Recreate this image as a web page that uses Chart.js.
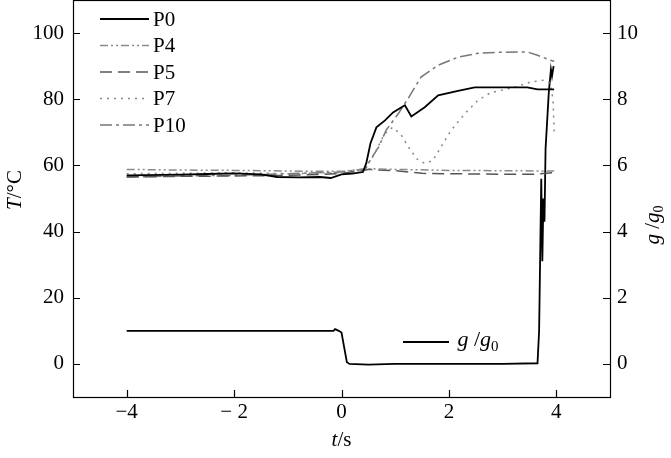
<!DOCTYPE html>
<html>
<head>
<meta charset="utf-8">
<script src="https://cdn.jsdelivr.net/npm/chart.js@4.4.1/dist/chart.umd.min.js"></script>
<style>
html, body { margin: 0; padding: 0; background: #fff; }
</style>
</head>
<body>
<canvas id="grafico" width="671" height="458"></canvas>
<script>
// datos
const ejeT = [-4, 4];
const ticksX = [-4, -2, 0, 2, 4];
const etiquetasX = ['\u22124', '\u2212 2', '0', '2', '4'];
const ticksT = [0, 20, 40, 60, 80, 100];
const ticksG = [0, 2, 4, 6, 8, 10];

const p0T = [-4, -3, -2.5, -2, -1.5, -1.2, -0.8, -0.4, -0.2, 0, 0.2, 0.4, 0.46, 0.54, 0.65, 0.81, 0.96, 1.18, 1.3, 1.55, 1.8, 2.17, 2.48, 2.91, 3.46, 3.65, 3.96];
const p0V = [57, 57.2, 57.4, 57.6, 57.3, 56.5, 56.4, 56.5, 56.2, 57.3, 57.5, 58, 60.6, 66.7, 71.5, 73.6, 76, 78.2, 74.8, 77.6, 81.2, 82.5, 83.6, 83.6, 83.6, 83, 83];

const p4T = [-4, -3, -2, -1, 0, 0.5, 1, 2, 3, 3.96];
const p4V = [58.8, 58.6, 58.5, 58.3, 58.2, 59, 58.8, 58.5, 58.4, 58.3];

const p5T = [-4, -3, -2, -1, 0, 0.5, 1, 1.5, 2.5, 3.5, 3.65, 3.96];
const p5V = [56.5, 56.7, 56.8, 57, 57.5, 58.8, 58.4, 57.6, 57.4, 57.3, 57.4, 57.8];

const p7T = [-4, -3, -2, -1, 0, 0.4, 0.6, 0.8, 0.95, 1.1, 1.25, 1.4, 1.55, 1.7, 1.85, 2.04, 2.3, 2.54, 2.78, 3.22, 3.52, 3.78, 3.89, 3.94, 3.96];
const p7V = [57.5, 57.6, 57.8, 57.5, 57.8, 58.5, 63, 69.5, 71.5, 69.5, 65.5, 62, 60.6, 61.5, 65.5, 70.6, 75.7, 79.7, 82, 83.6, 85.2, 85.8, 84.8, 79.7, 70];

const p10T = [-4, -3, -2, -1, 0, 0.45, 0.55, 0.69, 0.83, 1.06, 1.24, 1.48, 1.8, 2.17, 2.54, 2.91, 3.46, 3.65, 3.89, 3.96];
const p10V = [56.5, 56.8, 57, 57.5, 58, 59, 62, 65.5, 70.6, 75.7, 80.2, 86.7, 90.3, 92.7, 93.9, 94.2, 94.3, 93.3, 91.8, 91.5];

const gT = [-4, -0.15, -0.12, -0.05, 0, 0.05, 0.1, 0.15, 0.5, 1, 2, 3, 3.65, 3.68, 3.72, 3.74, 3.76, 3.78, 3.8, 3.86, 3.9, 3.92, 3.95];
const gV = [1, 1, 1.05, 1, 0.95, 0.5, 0.05, 0, -0.02, 0, 0, 0, 0.02, 1, 5.6, 3.1, 5, 4.3, 6.5, 8.2, 8.9, 8.7, 9.0];

function puntos(t, v) {
    return t.map((x, i) => ({ x: x, y: v[i] }));
}

const series = [
    { label: 'P0', t: p0T, v: p0V, color: '#000', ancho: 1.8, dash: [] },
    { label: 'P4', t: p4T, v: p4V, color: '#8a8a8a', ancho: 1.5, dash: [8, 3, 2, 3, 2, 3] },
    { label: 'P5', t: p5T, v: p5V, color: '#555', ancho: 1.5, dash: [12, 6] },
    { label: 'P7', t: p7T, v: p7V, color: '#888', ancho: 1.5, dash: [2, 5] },
    { label: 'P10', t: p10T, v: p10V, color: '#777', ancho: 1.5, dash: [12, 4, 3, 4] }
];

const datasets = series.map(s => ({
    label: s.label,
    data: puntos(s.t, s.v),
    borderColor: s.color,
    borderWidth: s.ancho,
    borderDash: s.dash,
    yAxisID: 'y',
    pointRadius: 0,
    tension: 0
}));
datasets.push({
    label: 'g/g0',
    data: puntos(gT, gV),
    borderColor: '#000',
    borderWidth: 1.8,
    yAxisID: 'y2',
    pointRadius: 0,
    tension: 0
});

const FUENTE = '"Liberation Serif", "Times New Roman", serif';

// dibuja texto con partes en cursiva / subindice
function textoMixto(ctx, partes, x, y, size, rot) {
    ctx.save();
    ctx.translate(x, y);
    if (rot) ctx.rotate(rot);
    let total = 0;
    partes.forEach(p => {
        const fs = p.sub ? size * 0.68 : size;
        ctx.font = (p.it ? 'italic ' : '') + fs + 'px ' + FUENTE;
        p.w = ctx.measureText(p.s).width;
        total += p.w;
    });
    let cx = -total / 2;
    ctx.textBaseline = 'middle';
    ctx.textAlign = 'left';
    ctx.fillStyle = '#000';
    partes.forEach(p => {
        const fs = p.sub ? size * 0.68 : size;
        ctx.font = (p.it ? 'italic ' : '') + fs + 'px ' + FUENTE;
        ctx.fillText(p.s, cx, p.sub ? size * 0.32 : 0);
        cx += p.w;
    });
    ctx.restore();
}

const marco = {
    id: 'marco',
    afterDraw(chart) {
        const ctx = chart.ctx;
        const a = chart.chartArea;
        const sx = chart.scales.x, sy = chart.scales.y, sg = chart.scales.y2;
        ctx.save();
        ctx.strokeStyle = '#000';
        ctx.lineWidth = 1.2;
        ctx.strokeRect(a.left + 0.5, a.top + 0.5, a.right - a.left, a.bottom - a.top);

        // ticks hacia dentro
        ctx.beginPath();
        ticksX.forEach(v => {
            const px = Math.round(sx.getPixelForValue(v)) + 0.5;
            ctx.moveTo(px, a.bottom); ctx.lineTo(px, a.bottom - 7);
        });
        ticksT.forEach(v => {
            const py = Math.round(sy.getPixelForValue(v)) + 0.5;
            ctx.moveTo(a.left, py); ctx.lineTo(a.left + 7, py);
        });
        ticksG.forEach(v => {
            const py = Math.round(sg.getPixelForValue(v)) + 0.5;
            ctx.moveTo(a.right, py); ctx.lineTo(a.right - 7, py);
        });
        ctx.stroke();

        // etiquetas
        ctx.fillStyle = '#000';
        ctx.font = '21px ' + FUENTE;
        ctx.textBaseline = 'middle';
        ctx.textAlign = 'center';
        ticksX.forEach((v, i) => ctx.fillText(etiquetasX[i], sx.getPixelForValue(v), a.bottom + 15));
        ctx.textAlign = 'right';
        ticksT.forEach(v => ctx.fillText(String(v), a.left - 9, sy.getPixelForValue(v)));
        ctx.textAlign = 'left';
        ticksG.forEach(v => ctx.fillText(String(v), a.right + 7, sg.getPixelForValue(v)));

        // titulos
        textoMixto(ctx, [{ s: 'T', it: true }, { s: '/\u00B0C' }], 15, 190, 21, -Math.PI / 2);
        textoMixto(ctx, [{ s: 't', it: true }, { s: '/s' }], sx.getPixelForValue(0), 440, 21, 0);
        textoMixto(ctx, [{ s: 'g', it: true }, { s: ' /' }, { s: 'g', it: true }, { s: '0', sub: true }], 653, 225, 21, -Math.PI / 2);

        // leyenda
        series.forEach((s, i) => {
            const y = 19 + i * 26.5;
            ctx.beginPath();
            ctx.setLineDash(s.dash);
            ctx.strokeStyle = s.color;
            ctx.lineWidth = s.ancho;
            ctx.moveTo(100, y); ctx.lineTo(149, y);
            ctx.stroke();
            ctx.setLineDash([]);
            ctx.fillStyle = '#000';
            ctx.font = '21px ' + FUENTE;
            ctx.textAlign = 'left';
            ctx.fillText(s.label, 153, y + 1);
        });
        ctx.beginPath();
        ctx.strokeStyle = '#000';
        ctx.lineWidth = 2.2;
        ctx.moveTo(403, 342); ctx.lineTo(449, 342);
        ctx.stroke();
        textoMixto(ctx, [{ s: 'g', it: true }, { s: ' /' }, { s: 'g', it: true }, { s: '0', sub: true }], 478, 340, 22, 0);
        ctx.restore();
    }
};

new Chart(document.getElementById('grafico'), {
    type: 'line',
    data: { datasets: datasets },
    options: {
        responsive: false,
        animation: false,
        devicePixelRatio: 1,
        layout: { padding: 0 },
        plugins: { legend: { display: false }, tooltip: { enabled: false } },
        scales: {
            x: {
                type: 'linear', min: -5, max: 5,
                grid: { display: false, drawTicks: false },
                border: { display: false },
                ticks: { display: false },
                afterFit(s) { s.height = 61; }
            },
            y: {
                position: 'left', min: -10, max: 110,
                grid: { display: false, drawTicks: false },
                border: { display: false },
                ticks: { display: false },
                afterFit(s) { s.width = 73; }
            },
            y2: {
                position: 'right', min: -1, max: 11,
                grid: { display: false, drawTicks: false },
                border: { display: false },
                ticks: { display: false },
                afterFit(s) { s.width = 61; }
            }
        }
    },
    plugins: [marco]
});
</script>
</body>
</html>
